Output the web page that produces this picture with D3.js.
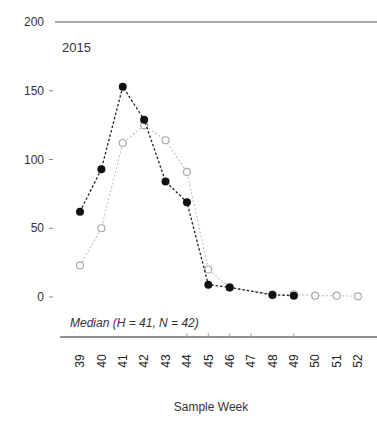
<!DOCTYPE html>
<html><head><meta charset="utf-8">
<script src="https://cdn.jsdelivr.net/npm/d3@7/dist/d3.min.js"></script>
<style>body{margin:0;background:#fff;}svg{display:block;font-family:"Liberation Sans",Arial,sans-serif;}</style>
</head><body><svg id="c" width="377" height="422"></svg>
<script>
const weeks = [39,40,41,42,43,44,45,46,47,48,49,50,51,52];
const seriesH = [62,93,153,129,84,69,9,7,null,1.5,1,null,null,null];
const seriesN = [23,50,112,125,114,91,20,7,null,2,2,1,1,0.5];
const yTicks = [0,50,100,150,200];
const minorTicks = [44,45,46,47,49];

const svg = d3.select("#c");
const x = d3.scaleLinear().domain([39,52]).range([80,358]);
const y = d3.scaleLinear().domain([0,200]).range([297,22]);

svg.append("line").attr("x1",55).attr("x2",377).attr("y1",y(200)).attr("y2",y(200))
  .attr("stroke","#8a8a8a").attr("stroke-width",1.5);
svg.append("line").attr("x1",60).attr("x2",377).attr("y1",337).attr("y2",337)
  .attr("stroke","#6a6a6a").attr("stroke-width",1.5);

const yg = svg.append("g");
yTicks.forEach(t=>{
  yg.append("text").attr("x",44).attr("y",y(t)).attr("dy","0.35em")
    .attr("text-anchor","end").attr("font-size",12).attr("fill","#333").text(t);
  if(t<200) yg.append("line").attr("x1",49).attr("x2",53).attr("y1",y(t)).attr("y2",y(t))
    .attr("stroke","#888").attr("stroke-width",1);
});

minorTicks.forEach(w=>{
  svg.append("line").attr("x1",x(w)).attr("x2",x(w)).attr("y1",333).attr("y2",337)
    .attr("stroke","#aaa").attr("stroke-width",1);
});

weeks.forEach(w=>{
  svg.append("text").attr("transform",`translate(${x(w)},361) rotate(-90)`)
    .attr("text-anchor","middle").attr("dy","0.35em").attr("font-size",12).attr("fill","#222").text(w);
});

svg.append("text").attr("x",211).attr("y",411).attr("text-anchor","middle")
  .attr("font-size",12).attr("fill","#333").text("Sample Week");

svg.append("text").attr("x",62).attr("y",52).attr("font-size",13).attr("fill","#333").text("2015");

svg.append("text").attr("x",70).attr("y",327).attr("font-size",12).attr("font-style","italic")
  .attr("fill","#333").text("Median (H = 41, N = 42)");

const line = d3.line().defined(d=>d.v!==null).x(d=>x(d.w)).y(d=>y(d.v));
const dN = weeks.map((w,i)=>({w,v:seriesN[i]})).filter(d=>d.v!==null);
const dH = weeks.map((w,i)=>({w,v:seriesH[i]})).filter(d=>d.v!==null);

svg.append("path").datum(dN).attr("d",line).attr("fill","none").attr("stroke","#c4c4c4")
  .attr("stroke-width",1.2).attr("stroke-dasharray","2,2");
svg.selectAll(".n").data(dN).enter().append("circle").attr("cx",d=>x(d.w)).attr("cy",d=>y(d.v))
  .attr("r",3.5).attr("fill","#fff").attr("stroke","#aaa").attr("stroke-width",1.2);

svg.append("path").datum(dH).attr("d",line).attr("fill","none").attr("stroke","#222")
  .attr("stroke-width",1.3).attr("stroke-dasharray","2.5,2");
svg.selectAll(".h").data(dH).enter().append("circle").attr("cx",d=>x(d.w)).attr("cy",d=>y(d.v))
  .attr("r",4).attr("fill","#111");
</script></body></html>
